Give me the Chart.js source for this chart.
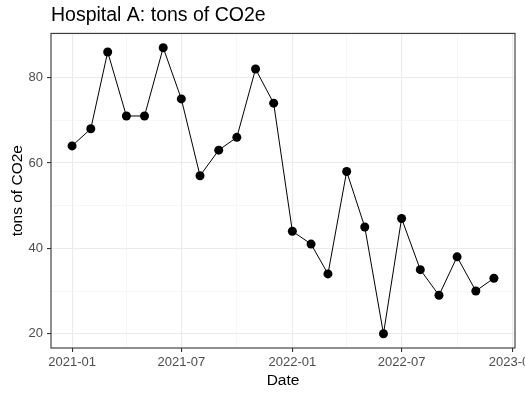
<!DOCTYPE html>
<html>
<head>
<meta charset="utf-8">
<script src="https://cdn.jsdelivr.net/npm/chart.js@4.4.1/dist/chart.umd.min.js"></script>
<style>
  body { margin: 0; background: #fff; }
  #wrap { width: 525px; height: 395px; }
</style>
</head>
<body>
<div id="wrap"><canvas id="co2_chart" width="525" height="395"></canvas></div>
<script>
// monthly emissions, Hospital A
var MONTHS = ["2021-01", "2021-02", "2021-03", "2021-04", "2021-05", "2021-06",
  "2021-07", "2021-08", "2021-09", "2021-10", "2021-11", "2021-12",
  "2022-01", "2022-02", "2022-03", "2022-04", "2022-05", "2022-06",
  "2022-07", "2022-08", "2022-09", "2022-10", "2022-11", "2022-12"];
var TONS = [64, 68, 86, 71, 71, 87, 75, 57, 63, 66, 82, 74,
  44, 41, 34, 58, 45, 20, 47, 35, 29, 38, 30, 33];

var X_MAJOR = ["2021-01", "2021-07", "2022-01", "2022-07", "2023-01"];
var X_MINOR = ["2021-04", "2021-10", "2022-04", "2022-10"];
var Y_MAJOR = [20, 40, 60, 80];
var Y_MINOR = [30, 50, 70, 90];

const FONT = "'Liberation Sans', Arial, sans-serif";

// days since 2021-01-01, no date adapter in the sandbox
function toDays(ym) {
  const parts = ym.split("-");
  return (Date.UTC(+parts[0], +parts[1] - 1, 1) - Date.UTC(2021, 0, 1)) / 86400000;
}

function isMajor(scale, value) {
  if (scale.isHorizontal()) return X_MAJOR.some((m) => toDays(m) === value);
  return Y_MAJOR.includes(value);
}

// ggplot style expand, 5% each side
function expand(vals) {
  const lo = Math.min(...vals), hi = Math.max(...vals);
  const pad = (hi - lo) * 0.05;
  return [lo - pad, hi + pad];
}

const xDays = MONTHS.map(toDays);
const xRange = expand(xDays);
const yRange = expand(TONS);

const panelBorder = {
  id: "panelBorder",
  afterDraw(chart) {
    const a = chart.chartArea;
    const ctx = chart.ctx;
    ctx.save();
    ctx.strokeStyle = "#333333";
    ctx.lineWidth = 1.1;
    ctx.strokeRect(a.left, a.top, a.right - a.left, a.bottom - a.top);
    ctx.restore();
  }
};

function gridOpts() {
  return {
    color: (c) => isMajor(c.scale, c.tick.value) ? "#EBEBEB" : "#F2F2F2",
    lineWidth: (c) => isMajor(c.scale, c.tick.value) ? 1.1 : 0.6,
    tickColor: (c) => isMajor(c.scale, c.tick.value) ? "#333333" : "rgba(0,0,0,0)",
    tickLength: 4,
    tickWidth: 1.1
  };
}

new Chart(document.getElementById("co2_chart"), {
  type: "line",
  data: {
    datasets: [{
      data: xDays.map((d, i) => ({ x: d, y: TONS[i] })),
      borderColor: "#000",
      borderWidth: 1,
      pointRadius: 4.5,
      pointBackgroundColor: "#000",
      pointBorderWidth: 0,
      tension: 0
    }]
  },
  options: {
    responsive: false,
    animation: false,
    layout: { padding: { right: 10 } },
    plugins: {
      legend: { display: false },
      tooltip: { enabled: false },
      title: {
        display: true,
        text: "Hospital A: tons of CO2e",
        align: "start",
        fullSize: false,
        color: "#000",
        font: { family: FONT, size: 19.5, weight: "normal" },
        padding: { top: 4, bottom: 6 }
      }
    },
    scales: {
      x: {
        type: "linear",
        min: xRange[0],
        max: xRange[1],
        border: { display: false },
        grid: gridOpts(),
        afterBuildTicks(scale) {
          scale.ticks = X_MAJOR.concat(X_MINOR).map((m) => ({ value: toDays(m) }));
        },
        afterFit(scale) {
          scale.height = 47;
          scale.paddingLeft = 0;
          scale.paddingRight = 0; // let 2023-01 get cut off like the original
        },
        ticks: {
          autoSkip: false,
          maxRotation: 0,
          padding: 3,
          color: "#4D4D4D",
          font: { family: FONT, size: 13 },
          callback: (v) => {
            const hit = X_MAJOR.find((m) => toDays(m) === v);
            return hit ? hit : "";
          }
        },
        title: {
          display: true,
          text: "Date",
          color: "#000",
          font: { family: FONT, size: 15.5 },
          padding: { top: 0, bottom: 5 }
        }
      },
      y: {
        min: yRange[0],
        max: yRange[1],
        border: { display: false },
        grid: gridOpts(),
        afterBuildTicks(scale) {
          scale.ticks = Y_MAJOR.concat(Y_MINOR).map((v) => ({ value: v }));
        },
        afterFit(scale) {
          scale.width = 51;
          scale.paddingTop = 0;
          scale.paddingBottom = 0;
        },
        ticks: {
          autoSkip: false,
          padding: 4,
          color: "#4D4D4D",
          font: { family: FONT, size: 13 },
          callback: (v) => Y_MAJOR.includes(v) ? String(v) : ""
        },
        title: {
          display: true,
          text: "tons of CO2e",
          color: "#000",
          font: { family: FONT, size: 15.5 },
          padding: { top: 8, bottom: 0 }
        }
      }
    }
  },
  plugins: [panelBorder]
});
</script>
</body>
</html>
